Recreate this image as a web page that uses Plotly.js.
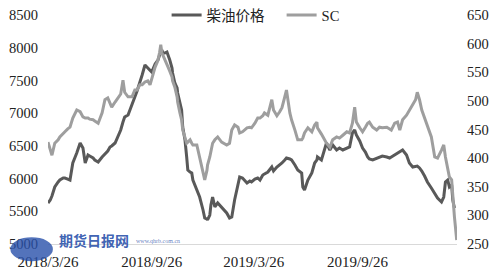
<!DOCTYPE html>
<html>
<head>
<meta charset="utf-8">
<script src="https://cdn.plot.ly/plotly-3.0.1.min.js"></script>
<style>html,body{margin:0;padding:0;background:#fff;}#chart{width:500px;height:272px;}</style>
</head>
<body>
<div id="chart"></div>
<script>
const dates = ["2018-03-26","2018-03-30","2018-04-02","2018-04-07","2018-04-13","2018-04-16","2018-04-22","2018-04-25","2018-04-30","2018-05-04",
"2018-05-09","2018-05-13","2018-05-16","2018-05-22","2018-05-27","2018-05-31","2018-06-05","2018-06-08","2018-06-14","2018-06-17",
"2018-06-23","2018-06-30","2018-07-05","2018-07-10","2018-07-14","2018-07-17","2018-07-23","2018-07-28","2018-08-02","2018-08-06",
"2018-08-09","2018-08-15","2018-08-18","2018-08-22","2018-08-27","2018-08-31","2018-09-05","2018-09-09","2018-09-14","2018-09-19",
"2018-09-23","2018-09-26","2018-10-02","2018-10-05","2018-10-07","2018-10-10","2018-10-12","2018-10-14","2018-10-16","2018-10-19",
"2018-10-23","2018-10-25","2018-10-28","2018-11-01","2018-11-02","2018-11-06","2018-11-10","2018-11-11","2018-11-15","2018-11-18",
"2018-11-20","2018-11-24","2018-11-27","2018-11-29","2018-12-03","2018-12-06","2018-12-08","2018-12-15","2018-12-20","2018-12-26",
"2018-12-29","2019-01-02","2019-01-03","2019-01-07","2019-01-09","2019-01-12","2019-01-16","2019-01-21","2019-01-28","2019-02-06",
"2019-02-11","2019-02-15","2019-02-20","2019-02-26","2019-03-01","2019-03-06","2019-03-14","2019-03-19","2019-03-22","2019-03-28",
"2019-04-02","2019-04-06","2019-04-11","2019-04-14","2019-04-20","2019-04-27","2019-04-30","2019-05-06","2019-05-11","2019-05-15",
"2019-05-20","2019-05-23","2019-05-29","2019-06-01","2019-06-07","2019-06-12","2019-06-19","2019-06-21","2019-06-24","2019-06-30",
"2019-07-07","2019-07-12","2019-07-16","2019-07-17","2019-07-24","2019-07-30","2019-08-02","2019-08-08","2019-08-13","2019-08-20",
"2019-08-25","2019-08-31","2019-09-07","2019-09-12","2019-09-17","2019-09-21","2019-09-24","2019-09-30","2019-10-05","2019-10-10",
"2019-10-14","2019-10-17","2019-10-23","2019-10-30","2019-11-04","2019-11-09","2019-11-17","2019-11-22","2019-11-25","2019-12-01",
"2019-12-06","2019-12-10","2019-12-15","2019-12-22","2019-12-27","2020-01-02","2020-01-07","2020-01-10","2020-01-14","2020-01-18",
"2020-01-23","2020-01-28","2020-02-04","2020-02-10","2020-02-15","2020-02-22","2020-02-26","2020-02-29","2020-03-04","2020-03-07",
"2020-03-11","2020-03-13","2020-03-16","2020-03-20"];

const diesel = [5627,5672,5734,5871,5948,5978,6009,6009,5993,5978,
6238,6314,6391,6544,6467,6238,6360,6345,6314,6284,
6253,6330,6376,6421,6483,6498,6544,6635,6742,6865,
6941,6972,7048,7140,7247,7338,7461,7583,7736,7690,
7659,7629,7751,7782,7812,7889,7935,7965,7919,7919,
7935,7889,7812,7690,7614,7461,7384,7308,7170,7048,
6788,6589,6330,6131,6100,6085,5978,5825,5718,5520,
5397,5382,5367,5443,5596,5718,5566,5627,5566,5474,
5397,5413,5672,5932,6024,6009,5932,5963,5948,5993,
6009,5978,6055,6070,6100,6177,6116,6177,6207,6238,
6284,6314,6299,6284,6208,6131,6085,5871,5825,5978,
6085,6238,6284,6330,6284,6483,6544,6437,6513,6437,
6467,6437,6467,6483,6697,6742,6666,6574,6467,6406,
6330,6299,6284,6314,6330,6345,6330,6314,6330,6360,
6391,6406,6437,6360,6238,6177,6192,6192,6162,6116,
6039,5948,5856,5779,5703,5642,5718,5948,5978,5871,
5902,5672,5550,null];

const sc = [428,414,405,426,432,437,442,446,451,454,
470,477,484,481,472,470,470,468,467,465,
461,479,502,505,495,489,498,505,512,536,
515,507,507,507,519,519,528,528,533,535,
528,540,559,566,571,585,598,584,580,571,
564,559,552,542,535,524,507,498,479,467,
449,437,426,428,432,426,423,423,402,379,
362,379,388,402,414,426,432,437,428,423,
426,449,458,454,444,446,453,454,453,461,
470,470,474,479,475,502,484,474,481,488,
507,519,479,467,449,432,432,435,444,453,
446,458,463,453,442,432,426,419,432,437,
435,440,446,444,461,489,463,453,446,454,
461,463,454,449,454,453,454,451,449,461,
463,449,467,475,484,493,502,515,502,484,
470,458,437,402,400,414,423,402,379,367,
362,332,297,257];

const seriesNames = ["柴油价格", "SC"];
const tickDates = ["2018-03-26","2018-09-26","2019-03-26","2019-09-26"];
const tickLabels = ["2018/3/26","2018/9/26","2019/3/26","2019/9/26"];

const FONT = "'Liberation Serif', 'Noto Sans CJK SC', serif";

const traces = [
  {x: dates, y: diesel, name: seriesNames[0], type: "scatter", mode: "lines",
   line: {color: "#595959", width: 3}, yaxis: "y", connectgaps: false},
  {x: dates, y: sc, name: seriesNames[1], type: "scatter", mode: "lines",
   line: {color: "#9e9e9e", width: 3}, yaxis: "y2"}
];

const layout = {
  width: 500, height: 272,
  margin: {l: 48, r: 43, t: 15, b: 28, pad: 0, autoexpand: false},
  paper_bgcolor: "#ffffff", plot_bgcolor: "#ffffff",
  font: {family: FONT, size: 14, color: "#222"},
  showlegend: true,
  legend: {orientation: "h", x: 0.29, xanchor: "left", y: 1.0, yanchor: "middle",
           font: {family: FONT, size: 14.5, color: "#222"}, bgcolor: "rgba(0,0,0,0)",
           itemwidth: 30, entrywidth: 70, entrywidthmode: "pixels", tracegroupgap: 0},
  xaxis: {type: "date", range: ["2018-03-26", "2020-03-20 12:00"],
          tickmode: "array", tickvals: tickDates, ticktext: tickLabels,
          showgrid: false, zeroline: false, showline: true, linecolor: "#d9d9d9", linewidth: 1,
          ticks: "", ticklabelstandoff: 4, tickfont: {family: FONT, size: 15, color: "#222"}},
  yaxis: {range: [5000, 8500], dtick: 500, tick0: 5000, showgrid: false, zeroline: false,
          showline: false, ticks: "", ticklabelstandoff: 9,
          tickfont: {family: FONT, size: 14.5, color: "#222"}},
  yaxis2: {range: [250, 650], dtick: 50, tick0: 250, overlaying: "y", side: "right",
           showgrid: false, zeroline: false, showline: false, ticks: "", ticklabelstandoff: 9,
           tickfont: {family: FONT, size: 14.5, color: "#222"}},
  shapes: [
    {type: "circle", xref: "paper", yref: "paper", x0: -0.092, x1: 0.012, y0: -0.075, y1: 0.03,
     fillcolor: "rgba(40,80,170,0.8)", line: {width: 0}, layer: "above"}
  ],
  annotations: [
    {xref: "paper", yref: "paper", x: (57-48)/409, y: (244-240)/229, xanchor: "left", yanchor: "middle",
     text: "<b>期货日报网</b>", showarrow: false,
     font: {family: "'Noto Sans CJK SC', sans-serif", size: 14, color: "rgba(40,80,170,0.9)"}},
    {xref: "paper", yref: "paper", x: (134-48)/409, y: (244-241)/229, xanchor: "left", yanchor: "middle",
     text: "www.qhrb.com.cn", showarrow: false,
     font: {family: FONT, size: 6, color: "rgba(40,80,170,0.75)"}}
  ]
};

Plotly.newPlot("chart", traces, layout, {staticPlot: true, displayModeBar: false});
</script>
</body>
</html>
